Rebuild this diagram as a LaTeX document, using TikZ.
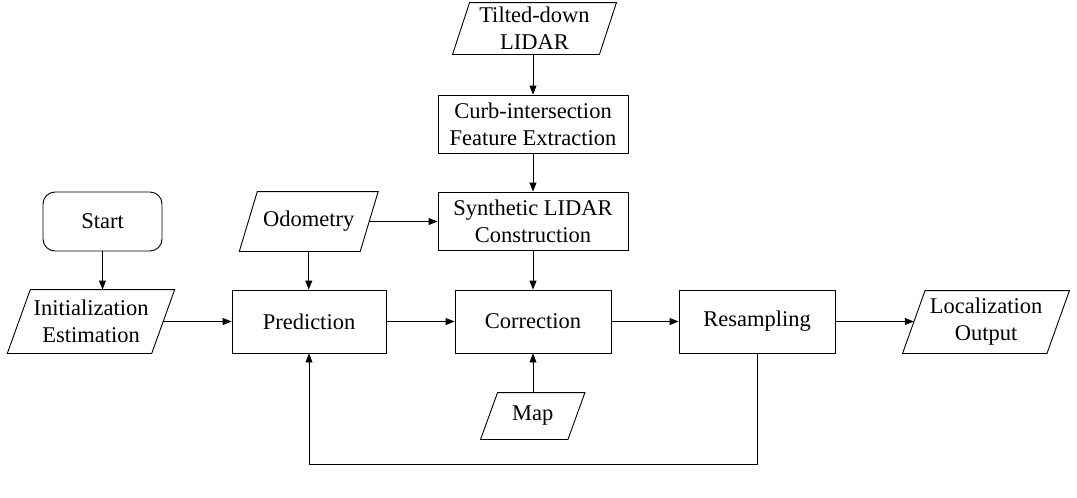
\documentclass[tikz,border=0pt]{standalone}
\usepackage{fontspec}
\setmainfont{Liberation Serif}
\usetikzlibrary{arrows.meta,calc}
\begin{document}
\begin{tikzpicture}[x=1pt,y=-1pt,
  base/.style={font=\fontsize{22.5}{27}\selectfont, align=center, inner sep=0pt, line width=0.9pt},
  procbox/.style={base, draw, rectangle},
  startbox/.style={base, draw, rectangle, rounded corners=12pt},
  iobox/.style={base, rectangle},
  arr/.style={line width=0.9pt, -{Triangle[length=9pt,width=7pt]}},
  wire/.style={line width=0.9pt}]
\useasboundingbox (0,0) rectangle (1077,498);

% process boxes
\node[procbox, minimum width=190pt, minimum height=58pt] (curb) at (533,124) {Curb-intersection\\Feature Extraction};
\node[procbox, minimum width=190pt, minimum height=58pt] (synth) at (533,221) {Synthetic LIDAR\\Construction};
\node[procbox, minimum width=154pt, minimum height=63pt] (pred) at (309,321.5) {Prediction};
\node[procbox, minimum width=156pt, minimum height=63pt] (corr) at (533,321.5) {Correction};
\node[procbox, minimum width=156pt, minimum height=63pt] (res) at (757,321.5) {Resampling};
\node[startbox, minimum width=119pt, minimum height=59pt] (start) at (102.5,221.5) {Start};

% input / output boxes (outlines drawn below as parallelograms)
\node[iobox, minimum width=146pt, minimum height=51pt] (tilted) at (534.5,28.5) {Tilted-down\\LIDAR};
\node[iobox, minimum width=120pt, minimum height=59pt] (odo) at (308.75,221.5) {Odometry};
\node[iobox, minimum width=143.5pt, minimum height=63pt] (init) at (91,321.5) {Initialization\\Estimation};
\node[iobox, minimum width=143.5pt, minimum height=62pt] (loc) at (986,322) {Localization\\Output};
\node[iobox, minimum width=86.5pt, minimum height=46pt] (map) at (532.75,416) {Map};

\foreach \n/\s in {tilted/17, odo/18, init/23, loc/22.5, map/17}
  \draw[wire] ($(\n.south west)+(-\s/2,0)$) -- ($(\n.south east)+(-\s/2,0)$)
    -- ($(\n.north east)+(\s/2,0)$) -- ($(\n.north west)+(\s/2,0)$) -- cycle;

% connectors
\draw[arr] (curb.north |- tilted.south) -- (curb.north);
\draw[arr] (curb.south) -- (synth.north);
\draw[arr] (synth.south) -- (corr.north);
\draw[arr] (odo.east) -- (odo.east -| synth.west);
\draw[arr] (odo.south) -- (odo.south |- pred.north);
\draw[arr] (start.south) -- (start.south |- init.north);
\draw[arr] (init.east) -- (init.east -| pred.west);
\draw[arr] (pred.east) -- (corr.west);
\draw[arr] (corr.east) -- (res.west);
\draw[arr] (res.east) -- (res.east -| loc.west);
\draw[arr] (map.north -| corr.south) -- (corr.south);
\coordinate (loopbase) at (533,464);
\draw[arr] (res.south) -- (res.south |- loopbase) -| (pred.south);
\end{tikzpicture}
\end{document}
